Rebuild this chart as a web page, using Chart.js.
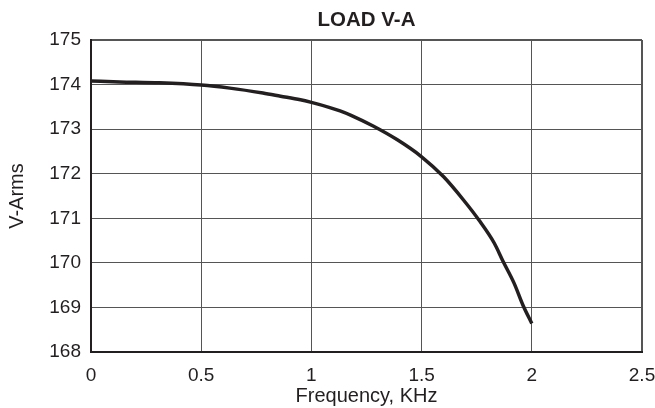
<!DOCTYPE html>
<html>
<head>
<meta charset="utf-8">
<script src="https://cdn.jsdelivr.net/npm/chart.js@4"></script>
<style>
  html, body { margin: 0; padding: 0; background: #fff; }
  #wrap { width: 655px; height: 408px; }
</style>
</head>
<body>
<div id="wrap"><canvas id="load-chart"></canvas></div>
<script>
// Values
const freqKHz = [0, 0.13, 0.31, 0.5, 0.63, 0.78, 0.86, 0.95, 1.0, 1.08, 1.13, 1.18, 1.28, 1.39, 1.5, 1.6, 1.69, 1.76, 1.83, 1.87, 1.92, 1.96, 2.0];
const vArms = [174.08, 174.06, 174.04, 173.99, 173.92, 173.81, 173.74, 173.66, 173.60, 173.49, 173.41, 173.31, 173.07, 172.76, 172.38, 171.93, 171.41, 170.96, 170.44, 170.03, 169.54, 169.05, 168.64];
const xTicks = [0, 0.5, 1, 1.5, 2, 2.5];
const yTicks = [168, 169, 170, 171, 172, 173, 174, 175];

const ink = '#231f20';
const fontFamily = "'Liberation Sans', Arial, sans-serif";

// Title centred over the plot area, not the whole canvas
const plotTitle = {
  id: 'plotTitle',
  afterDraw(chart) {
    const { ctx, chartArea } = chart;
    ctx.save();
    ctx.fillStyle = ink;
    ctx.font = 'bold 20.5px ' + fontFamily;
    ctx.textAlign = 'center';
    ctx.textBaseline = 'middle';
    ctx.fillText('LOAD V-A', (chartArea.left + chartArea.right) / 2, 20);
    ctx.restore();
  }
};

new Chart(document.getElementById('load-chart').getContext('2d'), {
  type: 'line',
  data: {
    datasets: [{
      label: 'V-Arms',
      data: freqKHz.map((f, i) => ({ x: f, y: vArms[i] })),
      borderColor: ink,
      borderWidth: 3.5,
      pointRadius: 0,
      cubicInterpolationMode: 'monotone',
      fill: false
    }]
  },
  plugins: [plotTitle],
  options: {
    responsive: true,
    maintainAspectRatio: false,
    animation: false,
    layout: { padding: { top: 40, right: 13, left: 0, bottom: 0 } },
    plugins: {
      legend: { display: false },
      tooltip: { enabled: false }
    },
    scales: {
      x: {
        type: 'linear',
        min: 0,
        max: 2.5,
        afterBuildTicks: (scale) => { scale.ticks = xTicks.map(v => ({ value: v })); },
        afterFit: (scale) => {
          scale.height = 56;
          scale.paddingLeft = 0;
          scale.paddingRight = 0;
        },
        grid: {
          color: '#555',
          lineWidth: (c) => (c.tick && c.tick.value === 2.5 ? 2 : 1),
          drawTicks: false
        },
        border: { color: ink, width: 2 },
        ticks: {
          color: ink,
          font: { size: 19, family: fontFamily },
          padding: 12,
          maxRotation: 0,
          callback: (v) => String(v)
        },
        title: {
          display: true,
          text: 'Frequency, KHz',
          color: ink,
          font: { size: 20, family: fontFamily },
          padding: { top: 0, bottom: 0 }
        }
      },
      y: {
        min: 168,
        max: 175,
        afterBuildTicks: (scale) => { scale.ticks = yTicks.map(v => ({ value: v })); },
        afterFit: (scale) => { scale.width = 91; },
        grid: {
          color: '#555',
          lineWidth: (c) => (c.tick && c.tick.value === 175 ? 2 : 1),
          drawTicks: false
        },
        border: { color: ink, width: 2 },
        ticks: { color: ink, font: { size: 19, family: fontFamily }, padding: 10 },
        title: {
          display: true,
          text: 'V-Arms',
          color: ink,
          font: { size: 20, family: fontFamily },
          padding: { top: 5, bottom: 0 }
        }
      }
    }
  }
});
</script>
</body>
</html>
